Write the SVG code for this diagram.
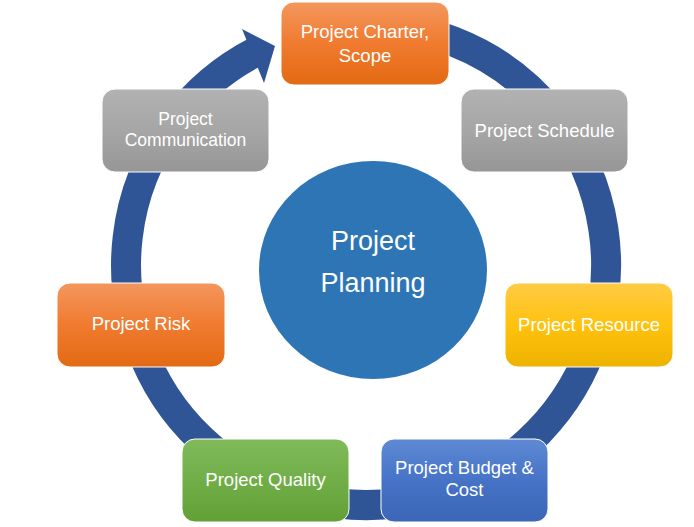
<svg xmlns="http://www.w3.org/2000/svg" width="694" height="527" viewBox="0 0 694 527">
<defs>
<linearGradient id="gOrange" x1="0" y1="0" x2="0" y2="1"><stop offset="0" stop-color="#F3975E"/><stop offset="0.5" stop-color="#F07B2F"/><stop offset="1" stop-color="#E36A13"/></linearGradient>
<linearGradient id="gGray" x1="0" y1="0" x2="0" y2="1"><stop offset="0" stop-color="#B2B2B2"/><stop offset="0.5" stop-color="#A6A6A6"/><stop offset="1" stop-color="#969696"/></linearGradient>
<linearGradient id="gYellow" x1="0" y1="0" x2="0" y2="1"><stop offset="0" stop-color="#FFCB45"/><stop offset="0.5" stop-color="#FFC20E"/><stop offset="1" stop-color="#EDB300"/></linearGradient>
<linearGradient id="gGreen" x1="0" y1="0" x2="0" y2="1"><stop offset="0" stop-color="#80BA5A"/><stop offset="0.5" stop-color="#71AE48"/><stop offset="1" stop-color="#62A036"/></linearGradient>
<linearGradient id="gBlue" x1="0" y1="0" x2="0" y2="1"><stop offset="0" stop-color="#5E8AD4"/><stop offset="0.5" stop-color="#4673C6"/><stop offset="1" stop-color="#3B66B8"/></linearGradient>
</defs>
<style>
.box{stroke:#ffffff;stroke-width:1}
.t{font-family:"Liberation Sans",Arial,sans-serif;font-size:18.5px;fill:#ffffff;text-anchor:middle}
.s{font-size:17.5px}
.big{font-family:"Liberation Sans",Arial,sans-serif;font-size:27px;fill:#ffffff;text-anchor:middle}
.ring{fill:none;stroke:#2F5597;stroke-width:30}
</style>
<rect width="694" height="527" fill="#ffffff"/>
<g id="connectors">
<path class="ring" d="M345.1,25.9 A240,240 0 1 1 257.0,51.2"/>
<polygon points="242,29 275,46 264,83" fill="#2F5597"/>
</g>
<g id="center">
<ellipse cx="373" cy="270" rx="114" ry="109" fill="#2E75B6"/>
<text class="big" x="373" y="250">Project</text>
<text class="big" x="373" y="292">Planning</text>
</g>
<g id="charter">
<rect class="box" x="281" y="2" width="168" height="83" rx="13" fill="url(#gOrange)"/>
<text class="t" x="365" y="38">Project Charter,</text>
<text class="t" x="365" y="62">Scope</text>
</g>
<g id="schedule">
<rect class="box" x="461" y="89" width="167" height="83" rx="13" fill="url(#gGray)"/>
<text class="t" x="544.5" y="137">Project Schedule</text>
</g>
<g id="resource">
<rect class="box" x="505" y="283" width="168" height="84" rx="13" fill="url(#gYellow)"/>
<text class="t" x="589" y="331">Project Resource</text>
</g>
<g id="budget">
<rect class="box" x="381" y="439" width="167" height="83" rx="13" fill="url(#gBlue)"/>
<text class="t" x="464.5" y="474">Project Budget &amp;</text>
<text class="t" x="464.5" y="496">Cost</text>
</g>
<g id="quality">
<rect class="box" x="182" y="439" width="167" height="83" rx="13" fill="url(#gGreen)"/>
<text class="t" x="265.5" y="486">Project Quality</text>
</g>
<g id="risk">
<rect class="box" x="57" y="283" width="168" height="84" rx="13" fill="url(#gOrange)"/>
<text class="t" x="141" y="330">Project Risk</text>
</g>
<g id="communication">
<rect class="box" x="102" y="89" width="167" height="83" rx="13" fill="url(#gGray)"/>
<text class="t s" x="185.5" y="125">Project</text>
<text class="t s" x="185.5" y="146">Communication</text>
</g>
</svg>
